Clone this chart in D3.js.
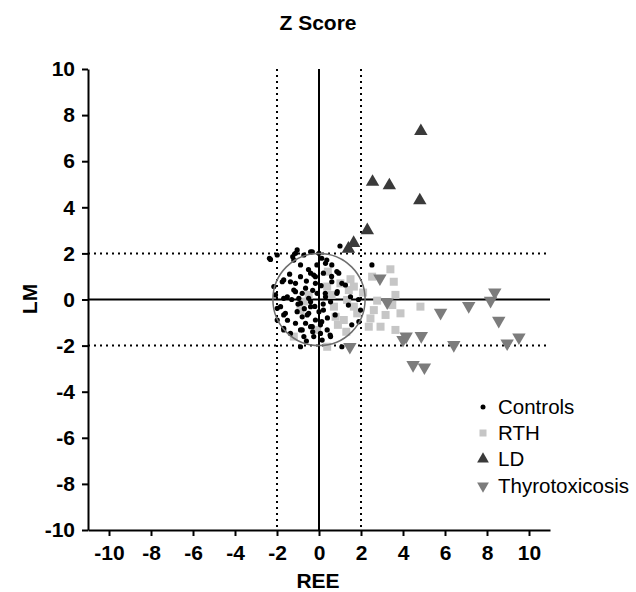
<!DOCTYPE html>
<html>
<head>
<meta charset="utf-8">
<script src="https://cdn.jsdelivr.net/npm/d3@7"></script>
<style>
  body { margin: 0; background: #fff; }
  svg text { font-family: "Liberation Sans", Arial, Helvetica, sans-serif; }
</style>
</head>
<body>
<svg id="chart"></svg>
<script>
// Z scores, [REE, LM]
const controls = [
  [-2.36,1.79],[-1.99,1.93],[-1.12,2.0],[-0.72,1.93],[-0.4,2.07],[-0.88,1.5],[-1.2,1.71],[0,2.0],
  [-1.75,0.77],[-1.36,0.77],[-1.12,0.7],[-1.2,0.41],[-0.8,0.27],[-0.88,0.99],[-0.4,1.14],[-0.25,1.06],
  [-2.15,0.56],[-2.07,0.2],[-1.68,0.05],[-1.83,-0.31],[-1.6,-0.6],[-1.99,-0.89],[-1.68,-1.25],[-1.36,-1.47],
  [-0.88,-2.05],[-0.4,-1.18],[-0.17,-0.89],[-0.56,-0.67],[-0.88,-0.16],[-0.4,-0.31],[0,-0.53],[-0.49,0.05],
  [-0.09,0.27],[-0.17,0.7],[0.07,-1.47],[-1.12,-1.03],[-0.8,-1.32],[-0.25,-1.61],
  [1.0,2.32],[2.52,1.5],[0.61,1.5],[0.37,1.71],[0.13,1.79],[0.85,1.21],[0.61,0.77],[1.09,0.7],
  [0.21,1.14],[0.3,0.27],[0.85,0.27],[1.4,-0.24],[1.88,0],[0.21,-0.46],[0.77,-0.67],[0.13,-0.96],
  [0.53,-1.54],[1.09,-2.05],[1.56,-1.1],
  [-1.04,2.15],[-0.32,2.07],[-2.31,1.74],[-1.25,1.86],[0.31,1.57],[0.94,1.14],[-0.17,0.99],[-1.68,0.85],
  [-0.64,0.49],[-1.12,0.34],[-1.51,0.12],[-0.96,0.05],[-0.4,-0.1],[0.31,0.12],[0.55,-0.1],[0.87,0.34],
  [1.26,0.63],[1.5,0.12],[-1.99,-0.38],[-1.68,-0.67],[-1.04,-0.53],[-0.8,-0.75],[-0.49,-0.6],[-0.64,-1.03],
  [-0.32,-1.18],[0.07,-1.1],[0.39,-1.32],[0.55,-1.61],[-1.68,-1.32],[-0.88,-1.32],[-0.72,-1.61],[0.15,-1.76],
  [1.98,-0.46],[1.9,-0.96],
  [-0.6,0.8],[-0.3,0.4],[-1.0,-0.2],[-0.7,-0.4],[-0.2,-0.3],[0.1,0.6],[-0.5,1.3],[-1.4,1.1],
  [-1.5,-0.9],[-0.3,-1.4],[0.4,-0.8],[-1.3,0.0],[0.2,-0.2],[-0.6,-1.8],[-0.1,1.5],[0.6,1.0]
];
const rth = [
  [3.4,1.31],[2.53,0.99],[3.56,0.77],[3.64,0.2],[3.49,-0.24],[2.77,-0.05],[2.61,-0.46],[3.17,-0.67],
  [3.88,-0.6],[4.83,-0.31],[2.45,-0.82],[2.93,-1.18],[3.64,-1.32],[2.37,-1.18],[0.42,1.21],[1.5,0.88],
  [1.66,0.56],[-0.72,-0.09],[-0.88,-0.46],[-1.2,-1.61],[-0.09,-1.32],[0.39,-2.05],[0.79,-0.75],[1.18,-0.89],
  [1.82,-0.6],[0.71,-0.31],[1.34,-0.02],[1.66,-0.31],[1.42,0.41],[1.02,0.7],[0.39,0.56],[-0.49,0.2],
  [0.9,-1.1],[1.3,-1.4],[0.6,0.2],[2.1,0.3]
];
const ld = [
  [1.4,2.2],[1.65,2.45],[2.3,3.0],[2.55,5.1],[3.35,4.95],[4.8,4.3],[4.85,7.3]
];
const thyro = [
  [2.9,0.92],[3.25,-0.12],[5.79,-0.57],[7.13,-0.28],[8.17,-0.05],[8.37,0.31],[8.56,-0.92],
  [4.0,-1.75],[4.15,-1.6],[4.87,-1.58],[6.42,-1.97],[8.96,-1.9],[9.52,-1.64],[4.48,-2.84],
  [5.02,-2.94],[1.47,-2.05]
];
const xTicks = [-10,-8,-6,-4,-2,0,2,4,6,8,10];
const yTicks = [-10,-8,-6,-4,-2,0,2,4,6,8,10];
const seriesNames = ["Controls", "RTH", "LD", "Thyrotoxicosis"];

const width = 636, height = 592;
const svg = d3.select("#chart").attr("width", width).attr("height", height);

const x = d3.scaleLinear().domain([-11, 11]).range([88, 550]);
const y = d3.scaleLinear().domain([-10, 10]).range([530, 69]);

const font = "21px";

// reference lines
const g = svg.append("g");
[-2, 2].forEach(v => {
  g.append("line").attr("x1", x(v)).attr("x2", x(v)).attr("y1", y(10)).attr("y2", y(-10))
    .attr("stroke", "#000").attr("stroke-width", 2).attr("stroke-dasharray", "2,4");
  g.append("line").attr("x1", x(-11)).attr("x2", x(11)).attr("y1", y(v)).attr("y2", y(v))
    .attr("stroke", "#000").attr("stroke-width", 2).attr("stroke-dasharray", "2,4");
});
g.append("line").attr("x1", x(0)).attr("x2", x(0)).attr("y1", y(10)).attr("y2", y(-10))
  .attr("stroke", "#000").attr("stroke-width", 2);
g.append("line").attr("x1", x(-11)).attr("x2", x(11)).attr("y1", y(0)).attr("y2", y(0))
  .attr("stroke", "#000").attr("stroke-width", 2);

// markers
const tri = d3.symbol().type(d3.symbolTriangle).size(78);

svg.append("g").selectAll("rect").data(rth).enter().append("rect")
  .attr("x", d => x(d[0]) - 4).attr("y", d => y(d[1]) - 4)
  .attr("width", 8).attr("height", 8).attr("fill", "#c6c6c6");

svg.append("g").selectAll("path").data(thyro).enter().append("path")
  .attr("d", tri)
  .attr("transform", d => `translate(${x(d[0])},${y(d[1])}) rotate(180)`)
  .attr("fill", "#7c7c7c");

svg.append("g").selectAll("path").data(ld).enter().append("path")
  .attr("d", tri)
  .attr("transform", d => `translate(${x(d[0])},${y(d[1])})`)
  .attr("fill", "#3a3a3a");

svg.append("g").selectAll("circle").data(controls).enter().append("circle")
  .attr("cx", d => x(d[0])).attr("cy", d => y(d[1])).attr("r", 2.6)
  .attr("fill", "#000");

// circle of radius 2 (LM units)
svg.append("circle")
  .attr("cx", x(0)).attr("cy", y(0)).attr("r", y(0) - y(2))
  .attr("fill", "none").attr("stroke", "#6e6e6e").attr("stroke-width", 1.5);

// axes (plain hyphen for negatives)
const fmt = d => String(d);
const xAxis = svg.append("g")
  .attr("transform", `translate(0,${y(-10)})`)
  .call(d3.axisBottom(x).tickValues(xTicks).tickFormat(fmt).tickSize(6).tickPadding(9).tickSizeOuter(0));
const yAxis = svg.append("g")
  .attr("transform", `translate(${x(-11)},0)`)
  .call(d3.axisLeft(y).tickValues(yTicks).tickFormat(fmt).tickSize(6).tickPadding(7).tickSizeOuter(0));
[xAxis, yAxis].forEach(a => {
  a.select(".domain").attr("stroke-width", 2);
  a.selectAll(".tick line").attr("stroke-width", 2);
  a.selectAll("text").attr("font-size", font).attr("font-weight", "bold")
    .attr("font-family", "Liberation Sans, Arial, sans-serif").attr("fill", "#000");
});

// titles
svg.append("text").attr("x", 318).attr("y", 30).attr("text-anchor", "middle")
  .attr("font-size", font).attr("font-weight", "bold").text("Z Score");
svg.append("text").attr("x", 318).attr("y", 588).attr("text-anchor", "middle")
  .attr("font-size", font).attr("font-weight", "bold").text("REE");
svg.append("text").attr("transform", "translate(37,299) rotate(-90)").attr("text-anchor", "middle")
  .attr("font-size", font).attr("font-weight", "bold").text("LM");

// legend
const legend = svg.append("g");
const legY = [407, 433, 459, 486];
seriesNames.forEach((name, i) => {
  const lx = 483, ly = legY[i];
  if (i === 0) legend.append("circle").attr("cx", lx).attr("cy", ly).attr("r", 2.5).attr("fill", "#000");
  if (i === 1) legend.append("rect").attr("x", lx - 3.5).attr("y", ly - 3.5).attr("width", 7).attr("height", 7).attr("fill", "#c6c6c6");
  if (i === 2) legend.append("path").attr("d", d3.symbol().type(d3.symbolTriangle).size(60))
    .attr("transform", `translate(${lx},${ly})`).attr("fill", "#3a3a3a");
  if (i === 3) legend.append("path").attr("d", d3.symbol().type(d3.symbolTriangle).size(60))
    .attr("transform", `translate(${lx},${ly}) rotate(180)`).attr("fill", "#7c7c7c");
  legend.append("text").attr("x", 498).attr("y", ly).attr("dy", "0.35em")
    .attr("font-size", "20.5px").text(name);
});
</script>
</body>
</html>
